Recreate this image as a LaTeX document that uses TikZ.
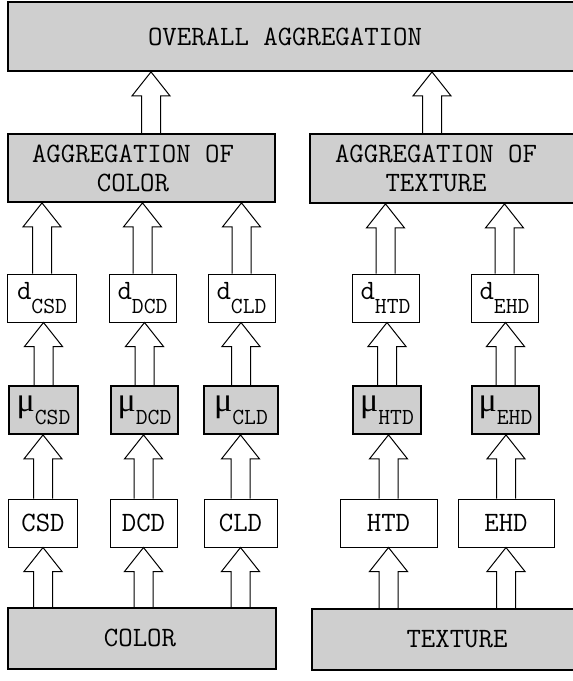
\documentclass[tikz,border=0pt]{standalone}
\usepackage{fontspec}
\newfontfamily\seriffont{Liberation Serif}
\usetikzlibrary{calc}
\definecolor{boxgray}{gray}{0.81}
\newcommand\mainsize{\ttfamily\fontsize{28bp}{29bp}\selectfont}
\newcommand\subsize{\ttfamily\fontsize{23bp}{23bp}\selectfont}
\tikzset{
  greybox/.style={draw, line width=1.8bp, fill=boxgray, inner sep=0pt},
  whitebox/.style={draw, line width=1bp, fill=white, inner sep=0pt},
  smallbox/.style={minimum height=48bp},
  arrowline/.style={draw, line width=1bp, line join=miter},
  lbl/.style={font=\mainsize, align=center, inner sep=0pt},
}
\newcommand\dlab[1]{\mainsize d\raisebox{-14bp}{\subsize #1}}
\newcommand\mulab[1]{{\seriffont\fontsize{34bp}{34bp}\selectfont μ}\raisebox{-13bp}{\subsize #1}}
% #1 = x reference, #2 = tip level, #3 = base level
\newcommand\blockarrow[3]{%
  \draw[arrowline] ($(#1 |- #3)+(-9.5,0)$) -- ($(#1 |- #2)+(-9.5,24)$) -- ($(#1 |- #2)+(-19,24)$) -- (#1 |- #2) -- ($(#1 |- #2)+(19,24)$) -- ($(#1 |- #2)+(9.5,24)$) -- ($(#1 |- #3)+(9.5,0)$);}
\begin{document}
\begin{tikzpicture}[x=1bp,y=-1bp]
\useasboundingbox (0,0) rectangle (573,681);
\clip (0,0) rectangle (573,681);
% big boxes
\node[greybox, minimum width=592bp, minimum height=69bp] (overall) at (304,36.5) {};
\node[lbl] (overallt) at (285,37) {OVERALL AGGREGATION};
\node[greybox, minimum width=267bp, minimum height=68bp] (aggc) at (141.5,168) {};
\node[lbl] (aggct) at (133,168) {AGGREGATION OF\\COLOR};
\node[greybox, minimum width=290bp, minimum height=69bp] (aggt) at (455,168.5) {};
\node[lbl] (aggtt) at (436,168) {AGGREGATION OF\\TEXTURE};
\node[greybox, minimum width=268bp, minimum height=61bp] (color) at (142,638.5) {};
\node[lbl] (colort) at (140,638) {COLOR};
\node[greybox, minimum width=288bp, minimum height=61bp] (texture) at (456,639.5) {};
\node[lbl] (texturet) at (457,639) {TEXTURE};
% d boxes
\node[whitebox, smallbox, minimum width=68bp] (dcsd) at (42,298) {\dlab{CSD}};
\node[whitebox, smallbox, minimum width=67bp] (ddcd) at (142.5,298) {\dlab{DCD}};
\node[whitebox, smallbox, minimum width=67bp] (dcld) at (241.5,298) {\dlab{CLD}};
\node[whitebox, smallbox, minimum width=67bp] (dhtd) at (385.5,298) {\dlab{HTD}};
\node[whitebox, smallbox, minimum width=67bp] (dehd) at (504.5,298) {\dlab{EHD}};
% mu boxes
\node[greybox, smallbox, minimum width=69bp] (mucsd) at (43.5,410) {\mulab{CSD}};
\node[greybox, smallbox, minimum width=67bp] (mudcd) at (144.5,410) {\mulab{DCD}};
\node[greybox, smallbox, minimum width=74bp] (mucld) at (241,410) {\mulab{CLD}};
\node[greybox, smallbox, minimum width=68bp] (muhtd) at (387,410) {\mulab{HTD}};
\node[greybox, smallbox, minimum width=67bp] (muehd) at (505.5,410) {\mulab{EHD}};
% descriptor boxes
\node[whitebox, smallbox, minimum width=68bp, font=\mainsize] (csd) at (43,523) {CSD};
\node[whitebox, smallbox, minimum width=67bp, font=\mainsize] (dcd) at (143.5,523) {DCD};
\node[whitebox, smallbox, minimum width=73bp, font=\mainsize] (cld) at (240.5,523) {CLD};
\node[whitebox, smallbox, minimum width=97bp, font=\mainsize] (htd) at (388.5,523) {HTD};
\node[whitebox, smallbox, minimum width=96bp, font=\mainsize] (ehd) at (506,523) {EHD};
% arrow x references for the top arrows
\coordinate (ov1) at (151,0);
\coordinate (ov2) at (432,0);
% arrows to overall
\blockarrow{ov1}{overall.south}{aggc.north}
\blockarrow{ov2}{overall.south}{aggt.north}
% arrows d -> aggregation
\blockarrow{dcsd}{aggc.south}{dcsd.north}
\blockarrow{ddcd}{aggc.south}{ddcd.north}
\blockarrow{dcld}{aggc.south}{dcld.north}
\blockarrow{dhtd}{aggt.south}{dhtd.north}
\blockarrow{dehd}{aggt.south}{dehd.north}
% arrows mu -> d
\blockarrow{mucsd}{dcsd.south}{mucsd.north}
\blockarrow{mudcd}{ddcd.south}{mudcd.north}
\blockarrow{mucld}{dcld.south}{mucld.north}
\blockarrow{muhtd}{dhtd.south}{muhtd.north}
\blockarrow{muehd}{dehd.south}{muehd.north}
% arrows descriptor -> mu
\blockarrow{csd}{mucsd.south}{csd.north}
\blockarrow{dcd}{mudcd.south}{dcd.north}
\blockarrow{cld}{mucld.south}{cld.north}
\blockarrow{htd}{muhtd.south}{htd.north}
\blockarrow{ehd}{muehd.south}{ehd.north}
% arrows feature -> descriptor
\blockarrow{csd}{csd.south}{color.north}
\blockarrow{dcd}{dcd.south}{color.north}
\blockarrow{cld}{cld.south}{color.north}
\blockarrow{htd}{htd.south}{texture.north}
\blockarrow{ehd}{ehd.south}{texture.north}
\end{tikzpicture}
\end{document}
